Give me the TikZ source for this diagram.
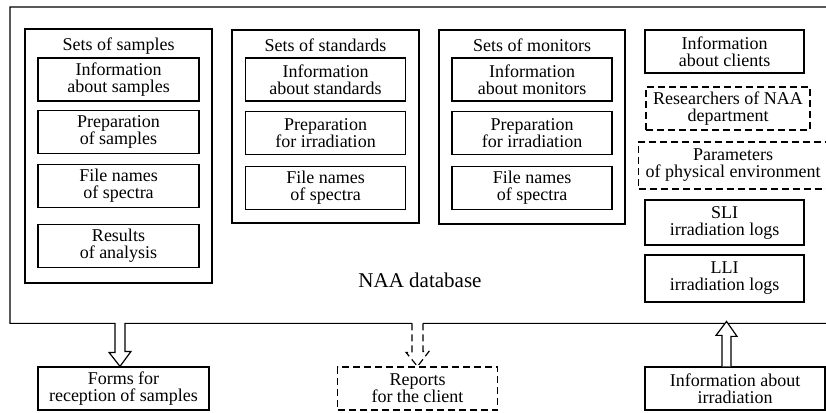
\documentclass[tikz,border=0pt]{standalone}
\usepackage{fontspec}
\setmainfont{Liberation Serif}
\usetikzlibrary{positioning}
\tikzstyle{box} = [draw, line width=1.2pt, rectangle, align=center, inner sep=2pt, font=\fontsize{18}{17}\selectfont]
\tikzstyle{item} = [box, minimum width=161pt, minimum height=43pt]
\tikzstyle{dashedbox} = [box, dash pattern=on 7pt off 4pt, inner xsep=7pt]
\tikzstyle{group} = [draw, line width=1.2pt, rectangle, minimum width=187pt]
\tikzstyle{grouptitle} = [anchor=base, inner sep=0pt, font=\fontsize{18}{17}\selectfont]
\tikzstyle{border} = [line width=1.2pt, line join=miter]

\begin{document}
\begin{tikzpicture}[node distance=9pt]
    \path [use as bounding box, clip] (0,0) rectangle (826pt,412pt);
    \begin{scope}[x=1pt, y=1pt]
    \node (db) [minimum width=840pt, minimum height=316pt, anchor=north west, inner sep=0pt] at (10,405) {};
    \node (db label) [font=\fontsize{21}{24}\selectfont] at (420,132) {NAA database};

    % Sets of samples.
    \node (samples) [group, minimum height=254pt] at (118.5,256) {};
    \node (samples title) [grouptitle] at ([yshift=-22.5pt]samples.north) {Sets of samples};
    \node (sample info) [item, below=29pt of samples.north] {Information\\about samples};
    \node (sample prep) [item, below=8pt of sample info] {Preparation\\of samples};
    \node (sample files) [item, below=10pt of sample prep] {File names\\of spectra};
    \node (sample results) [item, below=16pt of sample files] {Results\\of analysis};

    % Sets of standards.
    \node (standards) [group, minimum height=193pt] at (325.5,285.5) {};
    \node (standards title) [grouptitle] at ([yshift=-22.5pt]standards.north) {Sets of standards};
    \node (standard info) [item, minimum width=160pt, below=28pt of standards.north] {Information\\about standards};
    \node (standard prep) [item, minimum width=160pt, below=of standard info] {Preparation\\for irradiation};
    \node (standard files) [item, minimum width=160pt, below=11pt of standard prep] {File names\\of spectra};

    % Sets of monitors.
    \node (monitors) [group, minimum width=186pt, minimum height=194pt] at (532,285) {};
    \node (monitors title) [grouptitle] at ([yshift=-22.5pt]monitors.north) {Sets of monitors};
    \node (monitor info) [item, minimum width=160pt, below=28pt of monitors.north] {Information\\about monitors};
    \node (monitor prep) [item, minimum width=160pt, below=of monitor info] {Preparation\\for irradiation};
    \node (monitor files) [item, minimum width=160pt, below=11pt of monitor prep] {File names\\of spectra};

    % Right column.
    \node (clients) [item, minimum width=159pt] at (724.5,360.5) {Information\\about clients};
    \node (researchers) [dashedbox, minimum height=43pt] at (728,303.5) {Researchers of NAA\\department};
    \node (environment) [dashedbox, minimum height=47pt] at (733,246.5) {Parameters\\of physical environment};
    \node (sli) [item, minimum width=159pt, minimum height=45pt] at (724.5,189.5) {SLI\\irradiation logs};
    \node (lli) [item, minimum width=159pt, minimum height=47pt] at (724.5,133.5) {LLI\\irradiation logs};

    % Outside the database.
    \node (forms) [item, minimum width=171pt] at (123.5,23.5) {Forms for\\reception of samples};
    \node (reports) [dashedbox, minimum width=160pt, minimum height=43pt] at (417.5,23.5) {Reports\\for the client};
    \node (irradiation) [item, minimum width=180pt] at (735,23.5) {Information about\\irradiation};

    % Database border and arrows.
    \draw [border] ([xshift=5.5pt]reports.north |- db.south) -- (db.south east) -- (db.north east)
        -- (db.north west) -- (db.south west) -- ([xshift=-8.5pt]forms.north |- db.south)
        -- ++(0,-29) -- ++(-6,0) -- ([xshift=-3.5pt]forms.north) -- ++(11,15) -- ++(-6,0)
        -- ([xshift=1.5pt]forms.north |- db.south) -- ([xshift=-5.5pt]reports.north |- db.south);
    \draw [border, dash pattern=on 7pt off 4pt] ([xshift=-5.5pt]reports.north |- db.south)
        -- ++(0,-29) -- ++(-6,0) -- (reports.north) -- ++(11.5,15) -- ++(-6,0)
        -- ([xshift=5.5pt]reports.north |- db.south);
    \draw [border, fill=white] ([xshift=-13pt]irradiation.north) -- ++(0,31) -- ++(-6,0)
        -- ([xshift=-8.5pt, yshift=2pt]irradiation.north |- db.south) -- ++(10.5,-15) -- ++(-6,0)
        -- ([xshift=-4pt]irradiation.north);
    \end{scope}
\end{tikzpicture}
\end{document}
